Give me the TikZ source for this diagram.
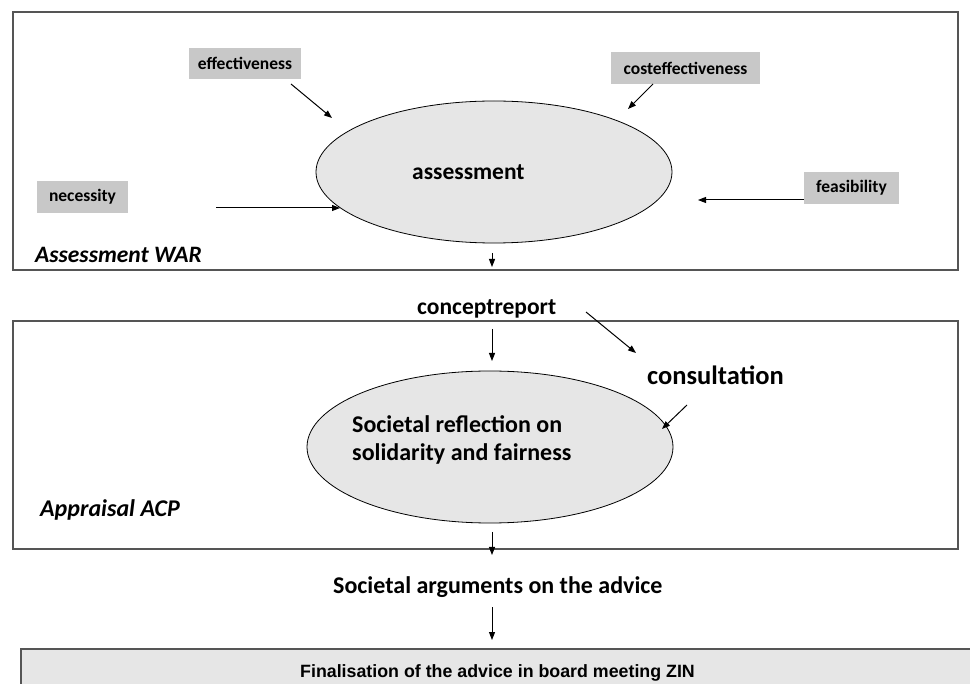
\documentclass[tikz,border=0pt]{standalone}
\usepackage{fontspec}
\setmainfont{Carlito}
\newfontfamily\arialfont{Liberation Sans}
\usetikzlibrary{shapes.geometric,arrows.meta}
\definecolor{labelgray}{HTML}{C8C8C8}
\definecolor{ellgray}{HTML}{E6E6E6}
\definecolor{framegray}{HTML}{555555}
\tikzset{
  frame/.style={draw=framegray, line width=1.3pt, inner sep=0pt},
  factor/.style={fill=labelgray, inner sep=0pt, font=\fontsize{17.5}{20}\selectfont\bfseries},
  oval/.style={ellipse, draw=black, line width=0.8pt, fill=ellgray, inner sep=0pt},
  txt/.style={anchor=base west, inner sep=0pt, font=\fontsize{23.5}{28}\selectfont\bfseries},
  flow/.style={-{Triangle[length=8pt,width=6pt]}, line width=1pt, black},
}
\begin{document}
\begin{tikzpicture}[x=1pt,y=-1pt]
\useasboundingbox (0,0) rectangle (970,684);
\clip (0,0) rectangle (970,684);
% frames
\node[frame, minimum width=945pt, minimum height=258pt] (war) at (485.5,141) {};
\node[frame, minimum width=945pt, minimum height=228pt] (acp) at (485.5,435) {};
\node[fill=ellgray, draw=framegray, line width=1.6pt, minimum width=960pt, minimum height=60pt, inner sep=0pt] (zinbox) at (501,679) {};
% ellipses
\node[oval, minimum width=356pt, minimum height=142pt] (ass) at (494,172) {};
\node[oval, minimum width=366pt, minimum height=152pt] (refl) at (490,447) {};
% factor boxes
\node[factor, minimum width=112pt, minimum height=31pt] (eff) at (245,63.5) {effectiveness};
\node[factor, minimum width=149pt, minimum height=32pt] (cost) at (685.5,68) {costeffectiveness};
\node[factor, minimum width=91pt, minimum height=32pt] (nec) at (82.5,197) {necessity};
\node[factor, minimum width=95pt, minimum height=32pt] (feas) at (851.5,188) {feasibility};
% texts
\node[txt] (asst) at (412,180) {assessment};
\node[txt, font=\fontsize{23.5}{28}\selectfont\bfseries\itshape] (wart) at (35,263) {Assessment WAR};
\node[txt] (concept) at (417,315) {conceptreport};
\node[txt, font=\fontsize{26.5}{30}\selectfont\bfseries] (consult) at (647,385) {consultation};
\node[txt, align=left, font=\fontsize{24}{28}\selectfont\bfseries] (reflt) at (352,461) {Societal reflection on\\solidarity and fairness};
\node[txt, font=\fontsize{24}{28}\selectfont\bfseries\itshape] (acpt) at (40,517) {Appraisal ACP};
\node[txt, font=\fontsize{24}{28}\selectfont\bfseries] (args) at (333,594) {Societal arguments on the advice};
\node[anchor=base west, inner sep=0pt, font=\arialfont\fontsize{17.8}{20}\selectfont\bfseries] (fint) at (300,677) {Finalisation of the advice in board meeting ZIN};
% connector end points
\coordinate (e1) at (291,84);   \coordinate (e2) at (332,118);
\coordinate (n1) at (216,208);  \coordinate (n2) at (340,208);
\coordinate (c1) at (653,84);   \coordinate (c2) at (628,109);
\coordinate (f1) at (804,200);  \coordinate (f2) at (698,200);
\coordinate (a1) at (492,253);  \coordinate (a2) at (492,267);
\coordinate (p1) at (492,329);  \coordinate (p2) at (492,361);
\coordinate (q1) at (586,312);  \coordinate (q2) at (636,353);
\coordinate (s1) at (687,405);  \coordinate (s2) at (662,429);
\coordinate (r1) at (492,532);  \coordinate (r2) at (492,555);
\coordinate (g1) at (492,607);  \coordinate (g2) at (492,640);
\draw[flow] (e1) -- (e2);
\draw[flow] (n1) -- (n2);
\draw[flow] (c1) -- (c2);
\draw[flow] (f1) -- (f2);
\draw[flow] (a1) -- (a2);
\draw[flow] (p1) -- (p2);
\draw[flow] (q1) -- (q2);
\draw[flow] (s1) -- (s2);
\draw[flow] (r1) -- (r2);
\draw[flow] (g1) -- (g2);
\end{tikzpicture}
\end{document}
